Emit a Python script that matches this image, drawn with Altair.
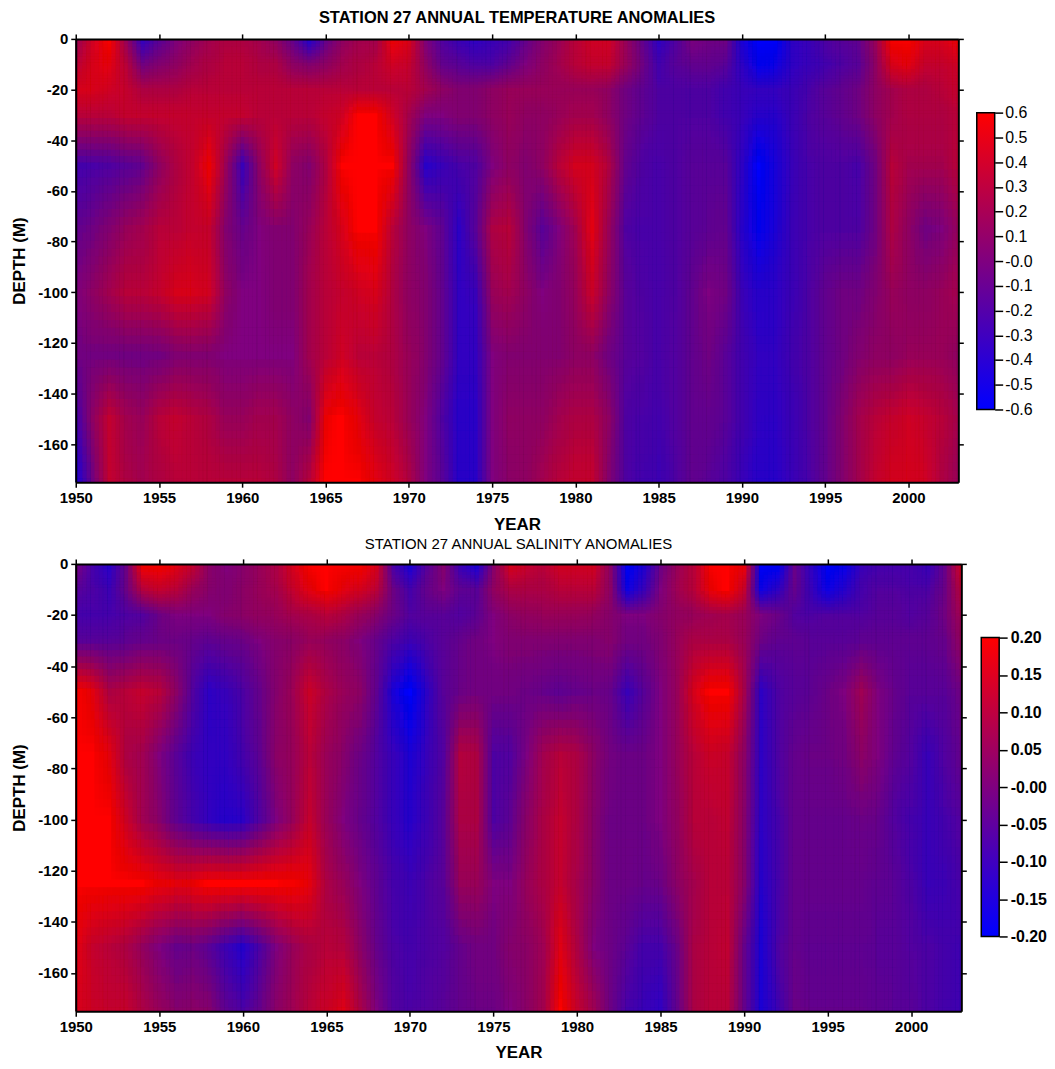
import altair as alt
import pandas as pd

YEARS = list(range(1950, 2004))
DEPTHS = [0, 10, 20, 30, 50, 75, 100, 125, 150, 175]

T_0 = [.15,.4,.6,.15,-.35,-.15,0,.1,.2,.25,.25,.2,.1,-.1,-.4,-.1,.1,.2,.2,.55,.45,0,-.2,-.3,-.35,-.3,-.25,-.1,.05,.15,.3,.4,.4,.15,-.1,-.35,-.2,0,-.05,-.05,-.45,-.6,-.6,-.35,-.3,-.2,-.15,-.1,.15,.6,.6,.45,.45,.55]
T_10 = [.3,.45,.5,.3,-.05,.05,.1,.2,.25,.3,.3,.25,.25,.1,.05,.1,.2,.25,.3,.4,.35,.1,-.1,-.15,-.2,-.2,-.1,0,.1,.2,.3,.35,.35,.15,-.05,-.25,-.15,-.1,-.1,-.15,-.35,-.55,-.5,-.35,-.3,-.25,-.2,-.15,.1,.45,.5,.35,.35,.4]
T_20 = [.45,.45,.4,.35,.25,.25,.25,.3,.3,.3,.3,.3,.3,.3,.3,.3,.3,.3,.3,.3,.3,.2,.1,.05,.05,.1,.15,.15,.15,.15,.15,.15,.1,-.05,-.12,-.2,-.2,-.2,-.2,-.25,-.3,-.32,-.32,-.28,-.22,-.15,-.1,-.05,.1,.2,.25,.25,.3,.35]
T_30 = [.3,.3,.3,.35,.35,.35,.35,.35,.35,.35,.35,.3,.3,.3,.3,.35,.4,.6,.6,.4,.2,0,0,.05,.05,.1,.15,.1,.1,.15,.2,.2,.1,-.05,-.12,-.2,-.2,-.2,-.2,-.25,-.3,-.38,-.38,-.28,-.2,-.15,-.1,-.05,.1,.2,.25,.25,.25,.3]
T_50 = [-.25,-.22,-.2,-.15,-.1,.1,.25,.35,.55,.15,-.3,.1,.4,.1,.05,.25,.6,.7,.7,.65,.1,-.38,-.3,-.22,-.2,0,.1,.05,.1,.3,.42,.42,.25,-.1,-.2,-.22,-.2,-.15,-.15,-.15,-.35,-.6,-.45,-.3,-.22,-.2,-.2,-.22,-.05,.3,.2,.2,.2,.3]
T_75 = [-.1,-.05,.05,.15,.2,.3,.3,.35,.35,.05,-.08,0,.05,.05,.15,.3,.45,.65,.65,.3,.1,0,-.12,-.36,-.15,.25,.3,.05,-.15,0,.2,.5,.15,-.2,-.22,-.22,-.2,-.15,-.12,-.1,-.38,-.55,-.42,-.28,-.22,-.2,-.2,-.2,-.05,.25,.1,-.05,0,.15]
T_100 = [0,.1,.2,.3,.3,.35,.45,.45,.4,.1,0,0,.02,.02,.2,.3,.35,.4,.45,.25,.1,.05,-.1,-.33,-.3,.15,.2,.1,0,.05,.15,.38,.1,-.15,-.2,-.22,-.2,-.1,0,-.05,-.28,-.38,-.36,-.28,-.2,-.1,-.05,-.05,.05,.15,.1,.1,.15,.2]
T_125 = [-.05,-.02,-.03,-.05,-.05,-.03,.02,.03,.03,0,0,0,0,0,.2,.3,.4,.3,.3,.25,.15,.05,-.1,-.33,-.33,0,.05,.05,.05,.05,.1,.1,-.05,-.15,-.18,-.22,-.18,-.1,-.05,-.15,-.25,-.33,-.33,-.25,-.2,-.1,-.05,.05,.1,.1,.15,.15,.15,.1]
T_150 = [-.25,.1,.35,.2,.15,.3,.35,.3,.25,.15,.15,.2,.2,.1,.05,.55,.75,.5,.35,.3,.15,0,-.2,-.37,-.37,0,.1,.1,.1,.2,.25,.25,.1,-.2,-.22,-.25,-.18,-.1,-.1,-.15,-.25,-.35,-.36,-.28,-.2,-.1,.05,.2,.3,.35,.4,.35,.3,.2]
T_175 = [-.45,-.05,.35,.25,.2,.25,.3,.3,.3,.3,.3,.3,.25,.1,.3,.65,.8,.7,.5,.4,.25,0,-.15,-.38,-.38,0,.08,.1,.2,.3,.35,.35,.05,-.2,-.25,-.27,-.2,-.1,-.15,-.2,-.3,-.38,-.38,-.3,-.22,-.1,.05,.2,.35,.42,.42,.4,.25,.15]

S_0 = [0,-.08,-.13,-.02,.2,.2,.17,.12,.03,0,.02,.05,.08,.15,.2,.2,.2,.2,.15,-.08,-.15,-.05,.02,-.1,-.15,.02,.15,.12,.1,.14,.14,.14,.02,-.2,-.14,-.02,.05,.1,.2,.2,.18,-.2,-.2,-.02,-.12,-.2,-.18,-.1,-.08,-.08,-.08,-.1,-.03,.15]
S_10 = [-.05,-.07,-.09,-.02,.09,.12,.1,.05,.02,.01,.03,.05,.07,.12,.17,.2,.17,.14,.1,-.02,-.08,-.03,0,-.04,-.05,.04,.08,.08,.08,.1,.1,.1,.03,-.17,-.1,0,.06,.1,.18,.2,.12,-.17,-.12,-.03,-.1,-.17,-.13,-.08,-.06,-.06,-.07,-.07,-.02,.1]
S_20 = [-.08,-.08,-.08,-.07,-.06,-.02,0,0,0,.02,.03,.04,.05,.07,.08,.1,.08,.05,.02,-.02,-.06,-.05,-.05,-.06,-.04,0,.03,.04,.05,.05,.05,.04,.02,0,0,.02,.04,.05,.06,.07,.05,0,-.02,-.06,-.07,-.06,-.06,-.06,-.05,-.05,-.06,-.05,-.01,.07]
S_30 = [-.05,-.05,-.05,-.04,-.03,-.02,-.02,-.03,-.04,-.03,-.02,0,.02,.03,.05,.04,.03,0,-.03,-.07,-.09,-.07,-.05,-.03,-.01,0,.01,.01,.01,.01,.01,.01,.02,-.01,-.01,.01,.05,.08,.08,.08,.05,-.02,-.04,-.04,-.05,-.05,-.05,-.04,-.04,-.04,-.04,-.04,-.03,.05]
S_50 = [.2,.17,.08,.1,.12,.1,.03,-.06,-.12,-.1,-.07,-.03,.02,.06,.13,.08,.05,.03,-.04,-.15,-.2,-.12,-.05,-.02,-.01,-.01,-.01,-.02,-.03,-.04,-.03,-.02,-.03,-.1,-.05,0,.05,.15,.2,.2,.07,-.12,-.07,-.05,-.04,-.02,0,.06,0,-.03,-.05,-.05,-.05,-.01]
S_75 = [.2,.2,.17,.08,.06,0,-.05,-.09,-.11,-.11,-.08,-.04,.03,.05,.1,.05,.02,-.02,-.06,-.1,-.14,-.1,-.06,.09,.08,-.07,-.06,0,.07,.1,.08,.03,-.01,-.02,-.02,0,.05,.1,.13,.12,.03,-.12,-.07,-.03,-.02,-.02,-.01,.03,0,-.04,-.06,-.1,-.06,-.03]
S_100 = [.2,.2,.2,.13,.06,.02,-.04,-.08,-.11,-.13,-.12,-.06,0,.05,.12,.05,0,-.03,-.06,-.1,-.13,-.09,-.05,.08,.08,-.07,-.04,.03,.08,.12,.08,.02,-.02,-.02,-.02,0,.04,.1,.1,.11,.02,-.12,-.08,-.03,-.03,-.03,-.03,-.02,-.03,-.06,-.08,-.1,-.08,-.06]
S_125 = [.2,.2,.2,.2,.2,.18,.17,.18,.2,.2,.2,.2,.2,.19,.17,.08,.05,0,-.04,-.08,-.09,-.07,-.05,.05,.05,0,0,.05,.08,.12,.07,.02,-.02,-.02,-.03,-.02,.03,.07,.1,.1,.02,-.13,-.08,-.03,-.03,-.03,-.03,-.03,-.04,-.05,-.07,-.1,-.09,-.07]
S_150 = [.17,.12,.1,.08,.04,0,-.03,-.02,-.05,-.09,-.13,-.07,0,.05,.08,.1,.09,.03,-.03,-.07,-.08,-.07,-.06,-.03,-.01,-.01,.02,.03,.06,.16,.08,0,-.02,-.05,-.08,-.08,-.02,.08,.1,.11,-.03,-.14,-.07,-.03,-.04,-.04,-.04,-.04,-.05,-.05,-.06,-.07,-.08,-.09]
S_175 = [.15,.13,.12,.12,.08,.05,.02,.03,.02,-.04,-.07,-.03,.03,.06,.1,.13,.16,.08,0,-.06,-.07,-.06,-.05,-.03,-.02,-.02,0,.03,.07,.2,.12,.06,-.02,-.08,-.1,-.11,-.03,.08,.1,.1,-.03,-.14,-.09,-.02,-.03,-.03,-.03,-.03,-.04,-.05,-.05,-.07,-.08,-.09]

T_ROWS = [T_0, T_10, T_20, T_30, T_50, T_75, T_100, T_125, T_150, T_175]
S_ROWS = [S_0, S_10, S_20, S_30, S_50, S_75, S_100, S_125, S_150, S_175]

T_TICKS = [.6, .5, .4, .3, .2, .1, 0, -.1, -.2, -.3, -.4, -.5, -.6]
S_TICKS = [.2, .15, .1, .05, 0, -.05, -.1, -.15, -.2]
X_TICKS = list(range(1950, 2001, 5))
Y_TICKS = [0, -20, -40, -60, -80, -100, -120, -140, -160]

BLUE, RED = "#0000ff", "#ff0000"
FONT = "Liberation Sans"
FX = [0.125, 0.375, 0.625, 0.875]
FY = [1 / 16, 3 / 16, 5 / 16, 7 / 16, 9 / 16, 11 / 16, 13 / 16, 15 / 16]


def table(rows):
    recs = []
    edges = [10] + [-d for d in DEPTHS] + [-200]
    for i, row in enumerate(rows):
        assert len(row) == len(YEARS)
        for yr, v in zip(YEARS, row):
            recs.append({"year": yr, "prev": edges[i], "d": edges[i + 1],
                         "next": edges[i + 2], "v": v})
    return pd.DataFrame(recs)


def panel(rows, lim, title, title_style, w, h, x_max):
    df = table(rows)
    xs = alt.Scale(domain=[1950, x_max], nice=False, zero=False)
    ys = alt.Scale(domain=[-175, 0], nice=False, zero=False)
    cs = alt.Scale(domain=[-lim, lim], range=[BLUE, RED], clamp=True, interpolate="rgb")
    layers = []
    n = 0
    # each anomaly cell is redrawn at sub-cell shifts with falling opacity, so the
    # cells are averaged on screen the way the reference's smooth shading looks
    for fx in FX:
        for fy in FY:
            n += 1
            layers.append(
                alt.Chart(df)
                .transform_calculate(
                    x0=f"datum.year - 1 + {fx}",
                    x1=f"datum.year + {fx} + 0.03",
                    y0=f"datum.prev + {fy} * (datum.d - datum.prev)",
                    y1=f"datum.d + {fy} * (datum.next - datum.d)",
                )
                .mark_rect(opacity=1.0 / n, clip=True, strokeWidth=0)
                .encode(
                    x=alt.X("x0:Q", scale=xs, axis=None),
                    x2="x1:Q",
                    y=alt.Y("y0:Q", scale=ys, axis=None),
                    y2="y1:Q",
                    color=alt.Color("v:Q", scale=cs, legend=None),
                )
            )
    frame = pd.DataFrame({"x": [1950], "y": [0]})
    common = dict(domainColor="black", domainWidth=2, tickColor="black", tickWidth=1.5,
                  tickSize=5, grid=False, zindex=1)
    main_axes = (
        alt.Chart(frame).mark_point(opacity=0).encode(
            x=alt.X("x:Q", scale=xs, axis=alt.Axis(
                orient="bottom", values=X_TICKS, format="d", title="YEAR", labelFont=FONT,
                labelFontWeight="bold", labelFontSize=15, labelPadding=3, labelColor="black",
                titleFont=FONT, titleFontWeight="bold", titleFontSize=17, titlePadding=11,
                titleColor="black", labelFlush=False, labelOverlap=False, **common)),
            y=alt.Y("y:Q", scale=ys, axis=alt.Axis(
                orient="left", values=Y_TICKS, title="DEPTH (M)", labelFont=FONT,
                labelExpr="datum.value == 0 ? '0' : '-' + abs(datum.value)",
                labelFontWeight="bold", labelFontSize=15, labelPadding=3, labelColor="black",
                titleFont=FONT, titleFontWeight="bold", titleFontSize=17, titlePadding=9,
                titleColor="black", labelOverlap=False, **common)),
        )
    )
    mirror_axes = (
        alt.Chart(frame).mark_point(opacity=0).encode(
            x=alt.X("x:Q", scale=xs, axis=alt.Axis(
                orient="top", values=X_TICKS, labels=False, title=None, **common)),
            y=alt.Y("y:Q", scale=ys, axis=alt.Axis(
                orient="right", values=Y_TICKS, labels=False, title=None, **common)),
        )
    )
    return (
        alt.layer(*layers, main_axes, mirror_axes)
        .resolve_axis(x="independent", y="independent")
        .properties(width=w, height=h,
                    title=alt.TitleParams(title, font=FONT, offset=5, color="black", **title_style))
    )


def colorbar(lim, ticks, zero_label, fmt, h, bottom, top, weight, size, pad):
    span = pd.DataFrame({"lo": [-lim], "hi": [lim]})
    grad = alt.Gradient(gradient="linear", x1=0, x2=0, y1=0, y2=1,
                        stops=[alt.GradientStop(color=RED, offset=0),
                               alt.GradientStop(color=BLUE, offset=1)])
    return (
        alt.Chart(span)
        .mark_rect(fill=grad, stroke="black", strokeWidth=1.5)
        .encode(
            x=alt.value(0),
            x2=alt.value(18),
            y=alt.Y("lo:Q", scale=alt.Scale(domain=[-lim, lim], range=[bottom, top], nice=False),
                    axis=alt.Axis(orient="right", values=ticks, title=None, domain=False, grid=False,
                                  tickSize=8, tickColor="black", tickWidth=1.5, labelPadding=pad,
                                  labelFont=FONT, labelFontSize=size, labelFontWeight=weight,
                                  labelOverlap=False, labelColor="black",
                                  labelExpr=f"abs(datum.value) < 0.001 ? '{zero_label}' : "
                                            f"(datum.value < 0 ? '-' : '') + format(abs(datum.value), '{fmt}')")),
            y2="hi:Q",
        )
        .properties(width=18, height=h)
    )


top = panel(T_ROWS, 0.6, "STATION 27 ANNUAL TEMPERATURE ANOMALIES",
            dict(fontSize=16.5, fontWeight="bold"), 886, 445, 2003)
bot = panel(S_ROWS, 0.2, "STATION 27 ANNUAL SALINITY ANOMALIES",
            dict(fontSize=15, fontWeight="normal"), 889, 449, 2003)

row1 = alt.hconcat(top, colorbar(0.6, T_TICKS, "-0.0", ".1f", 445, 372, 74, "normal", 16, 2),
                   spacing=11.5).resolve_scale(color="independent")
row2 = alt.hconcat(bot, colorbar(0.2, S_TICKS, "-0.00", ".2f", 449, 374, 74, "bold", 16, 3),
                   spacing=13).resolve_scale(color="independent")

chart = (
    alt.vconcat(row1, row2, spacing=5)
    .resolve_scale(color="independent")
    .properties(padding={"left": 2, "top": 0, "right": 0, "bottom": 0}, background="white")
    .configure_view(stroke=None)
)

chart.save("out.html", embed_options={"renderer": "svg", "actions": False})
